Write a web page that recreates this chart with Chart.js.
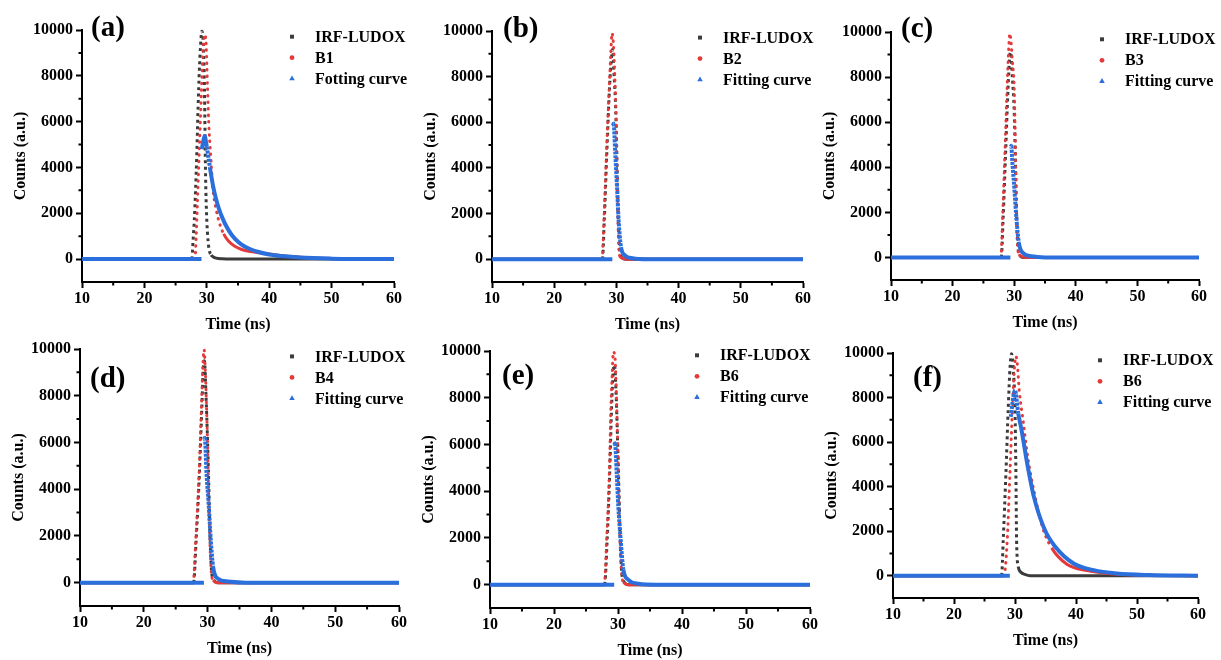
<!DOCTYPE html>
<html>
<head>
<meta charset="utf-8">
<script src="https://cdn.jsdelivr.net/npm/chart.js@4.4.1/dist/chart.umd.min.js"></script>
<style>
  html, body { margin: 0; padding: 0; background: #fff; }
  #wrap { position: relative; width: 1221px; height: 660px; overflow: hidden; background: #fff; }
  #wrap canvas { position: absolute; }
</style>
</head>
<body>
<div id="wrap"></div>
<script>
// axis ticks
const xTicks = [10, 20, 30, 40, 50, 60];
const xMinor = [15, 25, 35, 45, 55];
const yTicks = [0, 2000, 4000, 6000, 8000, 10000];
const yMinor = [1000, 3000, 5000, 7000, 9000];

const panelLabels = ['(a)', '(b)', '(c)', '(d)', '(e)', '(f)'];
const irfName = 'IRF-LUDOX';
const sampleNames = ['B1', 'B2', 'B3', 'B4', 'B6', 'B6'];
const fitNames = ['Fotting curve', 'Fitting curve', 'Fitting curve', 'Fitting curve', 'Fitting curve', 'Fitting curve'];

// decay traces as [time (ns), counts]
const irfA = [[10, 0], [27.6, 0], [27.8, 800], [28.0, 1700], [28.2, 3000], [28.4, 4600], [28.6, 6600], [28.8, 8200], [29.0, 9300], [29.2, 9950], [29.4, 9600], [29.55, 8500], [29.65, 7000], [29.75, 4600], [29.85, 3000], [30.0, 1700], [30.2, 800], [30.4, 380], [30.7, 180], [31.0, 100], [31.5, 40], [32.5, 10], [34, 0], [60, 0]];
const sampleA = [[10, 0], [28.1, 0], [28.3, 1000], [28.5, 2500], [28.7, 4000], [28.9, 5500], [29.1, 7000], [29.3, 8500], [29.5, 9500], [29.72, 9800], [29.9, 9300], [30.1, 7600], [30.3, 6000], [30.6, 4600], [31.0, 3000], [31.4, 2300], [32.0, 1600], [32.7, 1100], [33.5, 780], [34.5, 560], [35.5, 430], [36.5, 350], [38, 290], [40, 220], [42, 150], [44, 100], [47, 50], [52, 15], [56, 0], [60, 0]];
const fitA = [[10, 0], [29.15, 0], [29.18, null], [29.2, 4800], [29.4, 5100], [29.65, 5370], [30.0, 4900], [30.5, 4000], [31.0, 3200], [31.5, 2600], [32.0, 2150], [32.5, 1800], [33.0, 1500], [34.0, 1050], [35.0, 760], [36.0, 560], [37.0, 430], [38.0, 330], [40.0, 200], [42.0, 130], [45.0, 65], [50.0, 20], [55, 5], [60, 0]];

const irfB = [[10, 0], [27.75, 0], [28.05, 1700], [28.45, 4600], [28.9, 7550], [29.2, 8800], [29.4, 9200], [29.6, 8200], [29.9, 6500], [30.1, 4200], [30.3, 1800], [30.5, 500], [30.8, 100], [31.5, 0], [60, 0]];
const sampleB = [[10, 0], [27.7, 0], [28.0, 1700], [28.4, 4600], [28.86, 7550], [29.1, 9000], [29.3, 9900], [29.5, 9500], [29.7, 8300], [29.95, 6100], [30.1, 3800], [30.25, 1700], [30.4, 400], [30.6, 120], [31.0, 40], [32, 0], [60, 0]];
const fitB = [[10, 0], [29.35, 0], [29.4, null], [29.45, 5860], [29.55, 5950], [29.82, 4620], [30.1, 3160], [30.36, 1700], [30.74, 530], [31.4, 160], [32.6, 40], [35, 0], [60, 0]];

const irfC = [[10, 0], [27.9, 0], [28.2, 1700], [28.6, 4600], [29.0, 7500], [29.3, 9000], [29.45, 9100], [29.7, 8000], [30.0, 6500], [30.2, 4200], [30.4, 1800], [30.6, 500], [30.9, 100], [31.5, 0], [60, 0]];
const sampleC = [[10, 0], [27.84, 0], [28.11, 1670], [28.49, 4620], [28.86, 7570], [29.1, 9200], [29.3, 9930], [29.5, 9500], [29.7, 8700], [30.0, 7500], [30.15, 5500], [30.25, 3800], [30.38, 1670], [30.55, 500], [30.8, 150], [31.3, 40], [32, 0], [60, 0]];
const fitC = [[10, 0], [29.38, 0], [29.41, null], [29.44, 4910], [29.52, 4950], [29.68, 4320], [30.0, 3140], [30.38, 1670], [30.76, 640], [31.46, 190], [32.8, 50], [35, 0], [60, 0]];

const irfD = [[10, 0], [27.8, 0], [28.2, 1800], [28.72, 4700], [29.1, 7500], [29.35, 9300], [29.5, 9500], [29.75, 8000], [30.0, 6000], [30.2, 4000], [30.4, 1800], [30.65, 400], [31.0, 100], [31.6, 0], [60, 0]];
const sampleD = [[10, 0], [27.73, 0], [28.15, 1815], [28.67, 4680], [29.04, 7540], [29.25, 9200], [29.45, 9970], [29.65, 9000], [29.83, 7540], [29.98, 6100], [30.15, 4000], [30.35, 1815], [30.6, 385], [30.9, 100], [31.5, 0], [60, 0]];
const fitD = [[10, 0], [29.42, 0], [29.44, null], [29.46, 6140], [29.56, 6200], [29.83, 4680], [30.19, 3250], [30.5, 1815], [30.87, 670], [31.65, 170], [33.2, 50], [36, 0], [60, 0]];

const irfE = [[10, 0], [27.9, 0], [28.3, 1900], [28.7, 4750], [29.0, 7600], [29.25, 9100], [29.45, 9400], [29.7, 8200], [29.95, 6000], [30.15, 4000], [30.35, 1900], [30.6, 450], [31.0, 100], [31.6, 0], [60, 0]];
const sampleE = [[10, 0], [27.86, 0], [28.23, 1920], [28.65, 4770], [28.9, 7610], [29.1, 9000], [29.27, 9960], [29.5, 9800], [29.8, 7600], [30.05, 4770], [30.31, 1920], [30.58, 450], [30.9, 100], [31.5, 0], [60, 0]];
const fitE = [[10, 0], [29.4, 0], [29.41, null], [29.43, 5975], [29.52, 6050], [29.8, 4767], [30.05, 3340], [30.42, 1920], [30.83, 640], [31.6, 210], [33.2, 40], [36, 0], [60, 0]];

const irfF = [[10, 0], [27.8, 0], [28.07, 1600], [28.51, 4590], [28.9, 7580], [29.2, 9400], [29.44, 9970], [29.7, 9300], [29.99, 7580], [30.15, 4590], [30.26, 1600], [30.54, 400], [31.0, 150], [31.6, 60], [32.5, 0], [60, 0]];
const sampleF = [[10, 0], [28.18, 0], [28.73, 1600], [29.17, 4590], [29.6, 7580], [29.9, 9300], [30.15, 9850], [30.37, 9520], [30.7, 8300], [31.36, 6900], [32.05, 5400], [33.15, 3750], [34.6, 2100], [36.0, 1250], [38.5, 520], [41.8, 230], [45.6, 90], [50, 30], [55, 10], [60, 0]];
const fitF = [[10, 0], [29.15, 0], [29.2, null], [29.3, 7130], [29.99, 8330], [30.54, 7280], [31.08, 6530], [32.0, 5040], [33.1, 3540], [34.9, 2050], [36.6, 1300], [39.6, 550], [42.9, 250], [46.7, 100], [52, 30], [60, 0]];

const irfSets = [irfA, irfB, irfC, irfD, irfE, irfF];
const sampleSets = [sampleA, sampleB, sampleC, sampleD, sampleE, sampleF];
const fitSets = [fitA, fitB, fitC, fitD, fitE, fitF];

const GRAY = '#3b3b3b', RED = '#e53a3a', BLUE = '#2a6fdc';
const serif = '"Liberation Serif", "Times New Roman", serif';

// page position of each plot frame: [left, right, top, bottom],
// panel letter offset from the frame's top-left, legend offset from its top-right
const panels = [
  { frame: [82, 394, 30, 282], label: [9, -1], legend: [102, 6.7] },
  { frame: [492, 803, 31, 282], label: [11, -1.5], legend: [103, 6.6] },
  { frame: [891, 1199, 32, 280], label: [10, -2], legend: [97, 7.3] },
  { frame: [80, 399, 349, 606], label: [10, 31], legend: [107, 7.4] },
  { frame: [490, 810, 351, 608], label: [12, 26], legend: [113, 4.3] },
  { frame: [893, 1198, 353, 598], label: [20, 25.6], legend: [98, 7.3] }
];
const AXIS_W = 71, AXIS_H = 52, PAD_TOP = 20, PAD_RIGHT = 30;

function toPoints(pairs) {
  return pairs.map(([x, y]) => ({ x, y }));
}

function isSteep(ctx, ratio) {
  const dx = Math.abs(ctx.p1.x - ctx.p0.x);
  const dy = Math.abs(ctx.p1.y - ctx.p0.y);
  return dy > ratio * dx;
}

// steep parts of the traces are dotted like the raw channel data
function steepDash(dash, ratio) {
  return ctx => (isSteep(ctx, ratio) ? dash : undefined);
}

function marker(ctx, style, color, x, y) {
  ctx.fillStyle = color;
  const radius = style === 'circle' ? 2.4 : style === 'triangle' ? 3.2 : 2.8;
  if (Chart.helpers && Chart.helpers.drawPoint) {
    Chart.helpers.drawPoint(ctx, { pointStyle: style, radius, rotation: 0, borderWidth: 0 }, x, y);
  } else {
    ctx.beginPath();
    ctx.arc(x, y, radius, 0, Math.PI * 2);
    ctx.fill();
  }
}

const panelDecor = {
  id: 'panelDecor',
  afterDraw(chart, args, opts) {
    const { ctx, chartArea: area, scales: { x, y } } = chart;
    ctx.save();

    // minor ticks
    ctx.strokeStyle = '#000';
    ctx.lineWidth = 2;
    ctx.beginPath();
    xMinor.forEach(v => {
      const px = x.getPixelForValue(v);
      ctx.moveTo(px, area.bottom);
      ctx.lineTo(px, area.bottom + 3.5);
    });
    yMinor.forEach(v => {
      const py = y.getPixelForValue(v);
      ctx.moveTo(area.left, py);
      ctx.lineTo(area.left - 3.5, py);
    });
    ctx.stroke();

    // panel letter
    ctx.fillStyle = '#000';
    ctx.textAlign = 'left';
    ctx.textBaseline = 'middle';
    ctx.font = 'bold 29px ' + serif;
    ctx.fillText(opts.label, area.left + opts.labelPos[0], area.top + opts.labelPos[1]);

    // legend
    ctx.font = 'bold 16px ' + serif;
    const mx = area.right - opts.legendPos[0];
    chart.data.datasets.forEach((ds, i) => {
      const my = area.top + opts.legendPos[1] + i * 21;
      marker(ctx, ds.pointStyle, ds.borderColor, mx, my);
      ctx.fillStyle = '#000';
      ctx.fillText(ds.label, mx + 23, my + 1);
    });
    ctx.restore();
  }
};

const tickFont = { family: serif, size: 16, weight: 'bold' };
const plainNumber = v => String(v);
const wrap = document.getElementById('wrap');

panels.forEach((p, i) => {
  const [l, r, t, b] = p.frame;
  const w = r - l + AXIS_W + PAD_RIGHT;
  const h = b - t + PAD_TOP + AXIS_H;
  const canvas = document.createElement('canvas');
  canvas.width = w;
  canvas.height = h;
  canvas.style.left = (l - AXIS_W) + 'px';
  canvas.style.top = (t - PAD_TOP) + 'px';
  canvas.style.width = w + 'px';
  canvas.style.height = h + 'px';
  wrap.appendChild(canvas);

  new Chart(canvas, {
    type: 'line',
    data: {
      datasets: [{
        label: irfName,
        data: toPoints(irfSets[i]),
        borderColor: GRAY,
        backgroundColor: GRAY,
        pointStyle: 'rect',
        borderWidth: 3,
        order: 3,
        segment: { borderDash: steepDash([3, 3.5], 2.2) }
      }, {
        label: sampleNames[i],
        data: toPoints(sampleSets[i]),
        borderColor: RED,
        backgroundColor: RED,
        pointStyle: 'circle',
        borderWidth: 3,
        order: 2,
        segment: {
          borderDash: steepDash([0.5, 6], 2.2),
          borderCapStyle: ctx => (isSteep(ctx, 2.2) ? 'round' : 'butt')
        }
      }, {
        label: fitNames[i],
        data: toPoints(fitSets[i]),
        borderColor: BLUE,
        backgroundColor: BLUE,
        pointStyle: 'triangle',
        borderWidth: 4,
        order: 1,
        segment: { borderDash: steepDash([3, 1], 6) }
      }]
    },
    options: {
      responsive: false,
      animation: false,
      events: [],
      clip: false,
      layout: { padding: { top: PAD_TOP, right: PAD_RIGHT, left: 0, bottom: 0 } },
      elements: {
        point: { radius: 0, hoverRadius: 0 },
        line: { cubicInterpolationMode: 'monotone', fill: false }
      },
      scales: {
        x: {
          type: 'linear',
          min: 10,
          max: 60,
          afterBuildTicks: s => { s.ticks = xTicks.map(v => ({ value: v })); },
          afterFit: s => { s.height = AXIS_H; },
          grid: { drawOnChartArea: false, tickLength: 6, tickWidth: 2, tickColor: '#000' },
          border: { color: '#000', width: 2 },
          ticks: { color: '#000', font: tickFont, padding: 1, maxRotation: 0, autoSkip: false, callback: plainNumber },
          title: { display: true, text: 'Time (ns)', color: '#000', font: tickFont, padding: 0 }
        },
        y: {
          type: 'linear',
          min: -1000,
          max: 10000,
          afterBuildTicks: s => { s.ticks = yTicks.map(v => ({ value: v })); },
          afterFit: s => { s.width = AXIS_W; },
          grid: { drawOnChartArea: false, tickLength: 6, tickWidth: 2, tickColor: '#000' },
          border: { color: '#000', width: 2 },
          ticks: { color: '#000', font: tickFont, padding: 3, callback: plainNumber },
          title: { display: true, text: 'Counts (a.u.)', color: '#000', font: tickFont, padding: 0 }
        }
      },
      plugins: {
        legend: { display: false },
        tooltip: { enabled: false },
        panelDecor: { label: panelLabels[i], labelPos: p.label, legendPos: p.legend }
      }
    },
    plugins: [panelDecor]
  });
});
</script>
</body>
</html>
